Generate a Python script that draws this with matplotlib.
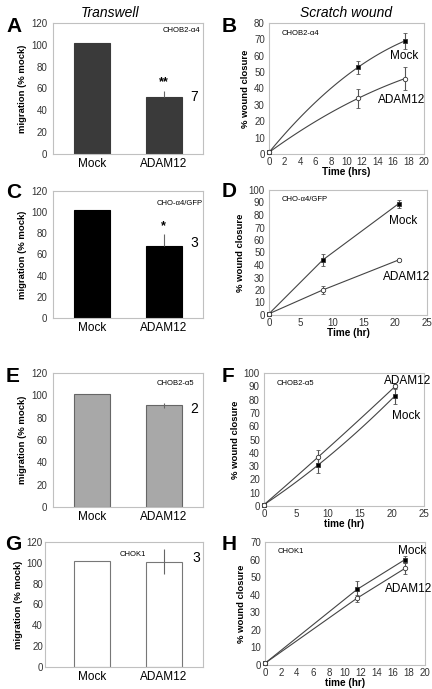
import numpy as np
import matplotlib
matplotlib.use('Agg')
from matplotlib import pyplot as plt

plt.rcParams['font.family'] = ['Liberation Sans', 'DejaVu Sans']

# transwell bars (% mock)
cats = ['Mock', 'ADAM12']
a_vals = [102, 52]
a_err = [0, 6]
c_vals = [102, 68]
c_err = [0, 11]
e_vals = [101, 91]
e_err = [0, 2]
g_vals = [102, 101]
g_err = [0, 12]

# scratch wound time courses
b_t = [0, 11.5, 17.5]
b_mock = [1, 53, 69]
b_mock_err = [0, 4, 5]
b_adam = [1, 34, 46]
b_adam_err = [0, 6, 7]

d_t = [0, 8.5, 20.5]
d_mock = [1, 44, 89]
d_mock_err = [0, 5, 3]
d_adam = [1, 20, 44]
d_adam_err = [0, 3, 1]

f_t = [0, 8.5, 20.5]
f_mock = [1, 31, 83]
f_mock_err = [0, 6, 6]
f_adam = [1, 37, 90]
f_adam_err = [0, 5, 2]

h_t = [0, 11.5, 17.5]
h_mock = [1, 43, 60]
h_mock_err = [0, 5, 2]
h_adam = [1, 38, 55]
h_adam_err = [0, 2, 3]

W, H = 432, 689
fig = plt.figure(figsize=(W / 100, H / 100), dpi=100)


def px_axes(l, t, r, b):
    ax = fig.add_axes([l / W, 1 - b / H, (r - l) / W, (b - t) / H])
    for s in ax.spines.values():
        s.set_color('#c0c0c0')
        s.set_linewidth(0.8)
    ax.tick_params(length=0, labelsize=7, colors='#333333', pad=4)
    return ax


def letter(x, y, s):
    fig.text(x / W, 1 - y / H, s, fontsize=15, fontweight='bold', ha='left', va='center')


def bar_panel(box, vals, err, face, edge, tag, tagpos, star, n, npos, both=False, xlo=-0.55, ypad=4):
    ax = px_axes(*box)
    ax.bar([0, 1], vals, width=0.5, color=face, edgecolor=edge, linewidth=0.8, zorder=2)
    lo = err[1] if both else 0
    ax.errorbar([1], [vals[1]], yerr=[[lo], [err[1]]], fmt='none', ecolor='#666666',
                elinewidth=0.8, capsize=0, zorder=3)
    ax.set_xlim(xlo, 1.55)
    ax.set_ylim(0, 120)
    ax.set_yticks(range(0, 121, 20))
    ax.set_xticks([0, 1])
    ax.set_xticklabels(cats, fontsize=8.5, color='black')
    ax.tick_params(axis='x', pad=3)
    ax.tick_params(axis='y', pad=ypad)
    ax.set_ylabel('migration (% mock)', fontsize=6.8, fontweight='bold', labelpad=3)
    ax.text(tagpos[0], tagpos[1], tag, transform=ax.transAxes, fontsize=5.5,
            ha='right', va='top')
    if star:
        ax.text(1, vals[1] + err[1] + 2, star, ha='center', va='bottom', fontsize=9, fontweight='bold')
    ax.text(npos[0], npos[1], n, ha='left', va='center', fontsize=10)
    return ax


def smooth(t, y):
    p = np.polyfit(t, y, 2)
    tt = np.linspace(t[0], t[-1], 60)
    return tt, np.polyval(p, tt)


def line_panel(box, t, mock, mock_err, adam, adam_err, ymax, ystep, xmax, xstep,
               xlabel, tag, curved, mock_lab, adam_lab):
    ax = px_axes(*box)
    for y, e, filled in [(mock, mock_err, True), (adam, adam_err, False)]:
        if curved:
            tt, yy = smooth(t, y)
        else:
            tt, yy = t, y
        ax.plot(tt, yy, color='#444444', lw=0.8, zorder=2)
        ax.errorbar(t[1:], y[1:], yerr=e[1:], fmt='none', ecolor='#555555', elinewidth=0.8,
                    capsize=1.5, capthick=0.6, zorder=3)
        ax.plot(t, y, 's' if filled else 'o', ms=2.8 if filled else 3.2,
                mfc='black' if filled else 'white', mec='#333333', mew=0.6, zorder=4,
                clip_on=False)
    ax.set_xlim(0, xmax)
    ax.set_ylim(0, ymax)
    ax.set_xticks(np.arange(0, xmax + 0.1, xstep))
    ax.set_yticks(np.arange(0, ymax + 0.1, ystep))
    ax.tick_params(axis='x', pad=2)
    ax.tick_params(axis='y', pad=3)
    ax.set_ylabel('% wound closure', fontsize=6.8, fontweight='bold', labelpad=3)
    ax.set_xlabel(xlabel, fontsize=7.2, fontweight='bold', labelpad=0)
    ax.text(0.08, 0.95, tag, transform=ax.transAxes, fontsize=5.5, ha='left', va='top')
    ax.text(mock_lab[0], mock_lab[1], 'Mock', fontsize=8.5, ha='left', va='center')
    ax.text(adam_lab[0], adam_lab[1], 'ADAM12', fontsize=8.5, ha='left', va='center')
    return ax


fig.text(110 / W, 1 - 13 / H, 'Transwell', fontsize=10, style='italic', ha='center', va='center')
fig.text(346 / W, 1 - 13 / H, 'Scratch wound', fontsize=10, style='italic', ha='center', va='center')

bar_panel((53, 23, 203, 154), a_vals, a_err, '#3a3a3a', '#3a3a3a', 'CHOB2-\u03b14', (0.98, 0.97),
          '**', '7', (1.37, 52))
bar_panel((53, 191, 203, 318), c_vals, c_err, 'black', 'black', 'CHO-\u03b14/GFP', (1.0, 0.93),
          '*', '3', (1.37, 71))
bar_panel((53, 373, 203, 507), e_vals, e_err, '#a8a8a8', '#666666', 'CHOB2-\u03b15', (0.94, 0.95),
          None, '2', (1.37, 88), both=True)
bar_panel((45, 542, 203, 667), g_vals, g_err, 'white', '#777777', 'CHOK1', (0.64, 0.93),
          None, '3', (1.4, 105), both=True, xlo=-0.66, ypad=1.5)

line_panel((269, 23, 424, 154), b_t, b_mock, b_mock_err, b_adam, b_adam_err, 80, 10, 20, 2,
           'Time (hrs)', 'CHOB2-\u03b14', True, (15.6, 60), (14.0, 33))
line_panel((269, 190, 427, 315), d_t, d_mock, d_mock_err, d_adam, d_adam_err, 100, 10, 25, 5,
           'Time (hr)', 'CHO-\u03b14/GFP', False, (19.0, 75), (18.0, 30))
line_panel((264, 373, 424, 506), f_t, f_mock, f_mock_err, f_adam, f_adam_err, 100, 10, 25, 5,
           'time (hr)', 'CHOB2-\u03b15', True, (20.0, 68), (18.8, 94))
line_panel((265, 542, 425, 665), h_t, h_mock, h_mock_err, h_adam, h_adam_err, 70, 10, 20, 2,
           'time (hr)', 'CHOK1', False, (16.6, 65), (15.0, 43))

letter(6, 27, 'A')
letter(222, 27, 'B')
letter(6, 192, 'C')
letter(222, 191, 'D')
letter(6, 376, 'E')
letter(222, 376, 'F')
letter(5, 545, 'G')
letter(222, 545, 'H')

fig.savefig('out.png', dpi=100)
